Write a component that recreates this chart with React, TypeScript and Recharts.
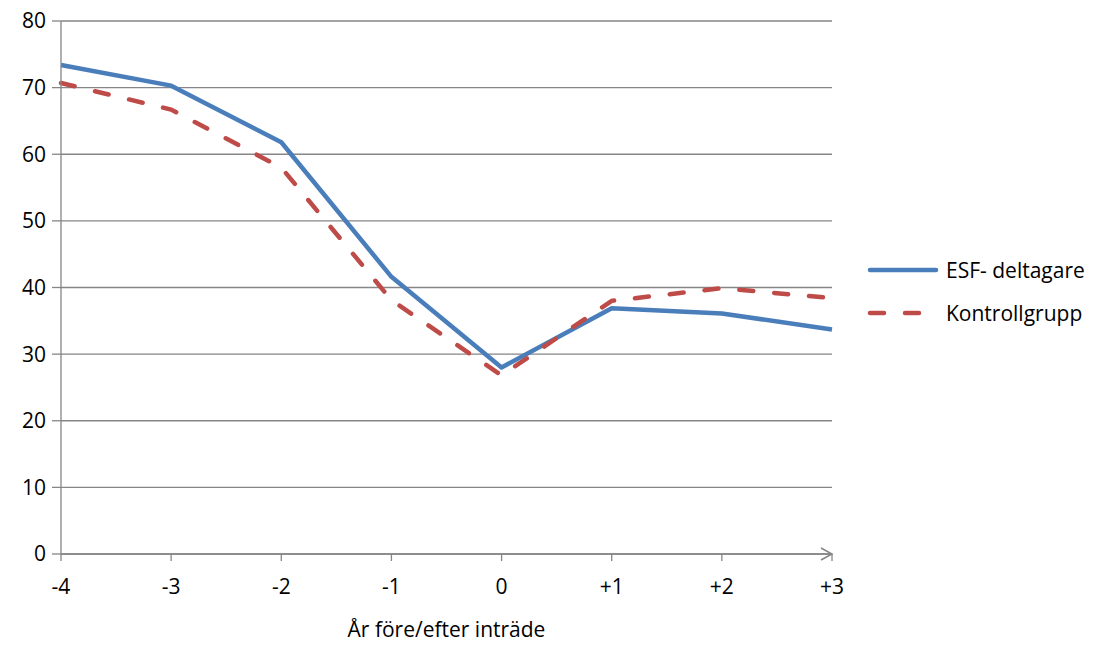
import { LineChart, Line, XAxis, YAxis, CartesianGrid, ReferenceDot } from "recharts"

const years = ["-4", "-3", "-2", "-1", "0", "+1", "+2", "+3"]
const esf = [73.4, 70.3, 61.8, 41.6, 28.0, 36.9, 36.1, 33.7]
const kontroll = [70.7, 66.7, 58.0, 38.1, 26.8, 38.0, 39.9, 38.4]
const yTicks = [0, 10, 20, 30, 40, 50, 60, 70, 80]

const data = years.map((y, i) => ({ year: y, esf: esf[i], kontroll: kontroll[i] }))

const font = "'Open Sans', sans-serif"
const fs = 21
const grey = "#868686"
const blue = "#4A7EBB"
const red = "#BE4B48"

function Arrow(props: any) {
  const { cx, cy } = props
  if (cx == null || cy == null) return null
  return (
    <polyline
      points={`${cx - 11},${cy - 6} ${cx},${cy} ${cx - 11},${cy + 6}`}
      fill="none"
      stroke={grey}
      strokeWidth={1.5}
    />
  )
}

function LegendBox() {
  const items = [
    { name: "ESF- deltagare", color: blue, dash: undefined },
    { name: "Kontrollgrupp", color: red, dash: "14 21" },
  ]
  return (
    <div style={{ position: "absolute", left: 866, top: 248, fontFamily: font, fontSize: fs, color: "#000" }}>
      {items.map((it) => (
        <div key={it.name} style={{ display: "flex", alignItems: "center", height: 43 }}>
          <svg width={78} height={10} style={{ marginRight: 2 }}>
            <line x1={4} y1={5} x2={70} y2={5} stroke={it.color} strokeWidth={4.5}
              strokeLinecap="round" strokeDasharray={it.dash} />
          </svg>
          <span>{it.name}</span>
        </div>
      ))}
    </div>
  )
}

export default function App() {
  return (
    <div style={{ position: "absolute", left: 0, top: 0, background: "#fff", width: 1097, height: 646 }}>
      <LineChart width={1097} height={646} data={data}
        margin={{ top: 21, right: 265, bottom: 0, left: 8 }}>
        <CartesianGrid vertical={false} stroke={grey} strokeWidth={1.3} />
        <XAxis dataKey="year" stroke={grey} strokeWidth={1.3} tickSize={7}
          tick={{ fill: "#000", fontFamily: font, fontSize: fs }} tickMargin={18}
          height={92}
          label={{ value: "År före/efter inträde", position: "insideBottom", offset: 9,
            fill: "#000", fontFamily: font, fontSize: fs }} />
        <YAxis domain={[0, 80]} ticks={yTicks} width={53} stroke={grey} strokeWidth={1.3}
          tickSize={9} tickMargin={6} interval={0}
          tick={{ fill: "#000", fontFamily: font, fontSize: fs }} />
        <ReferenceDot x="+3" y={0} r={0} shape={Arrow} ifOverflow="visible" />
        <Line type="linear" dataKey="esf" name="ESF- deltagare" stroke={blue} strokeWidth={4.5}
          dot={false} isAnimationActive={false} strokeLinejoin="round" />
        <Line type="linear" dataKey="kontroll" name="Kontrollgrupp" stroke={red} strokeWidth={4.5}
          strokeDasharray="14 21" strokeLinecap="round" dot={false} isAnimationActive={false} />
      </LineChart>
      <LegendBox />
    </div>
  )
}
